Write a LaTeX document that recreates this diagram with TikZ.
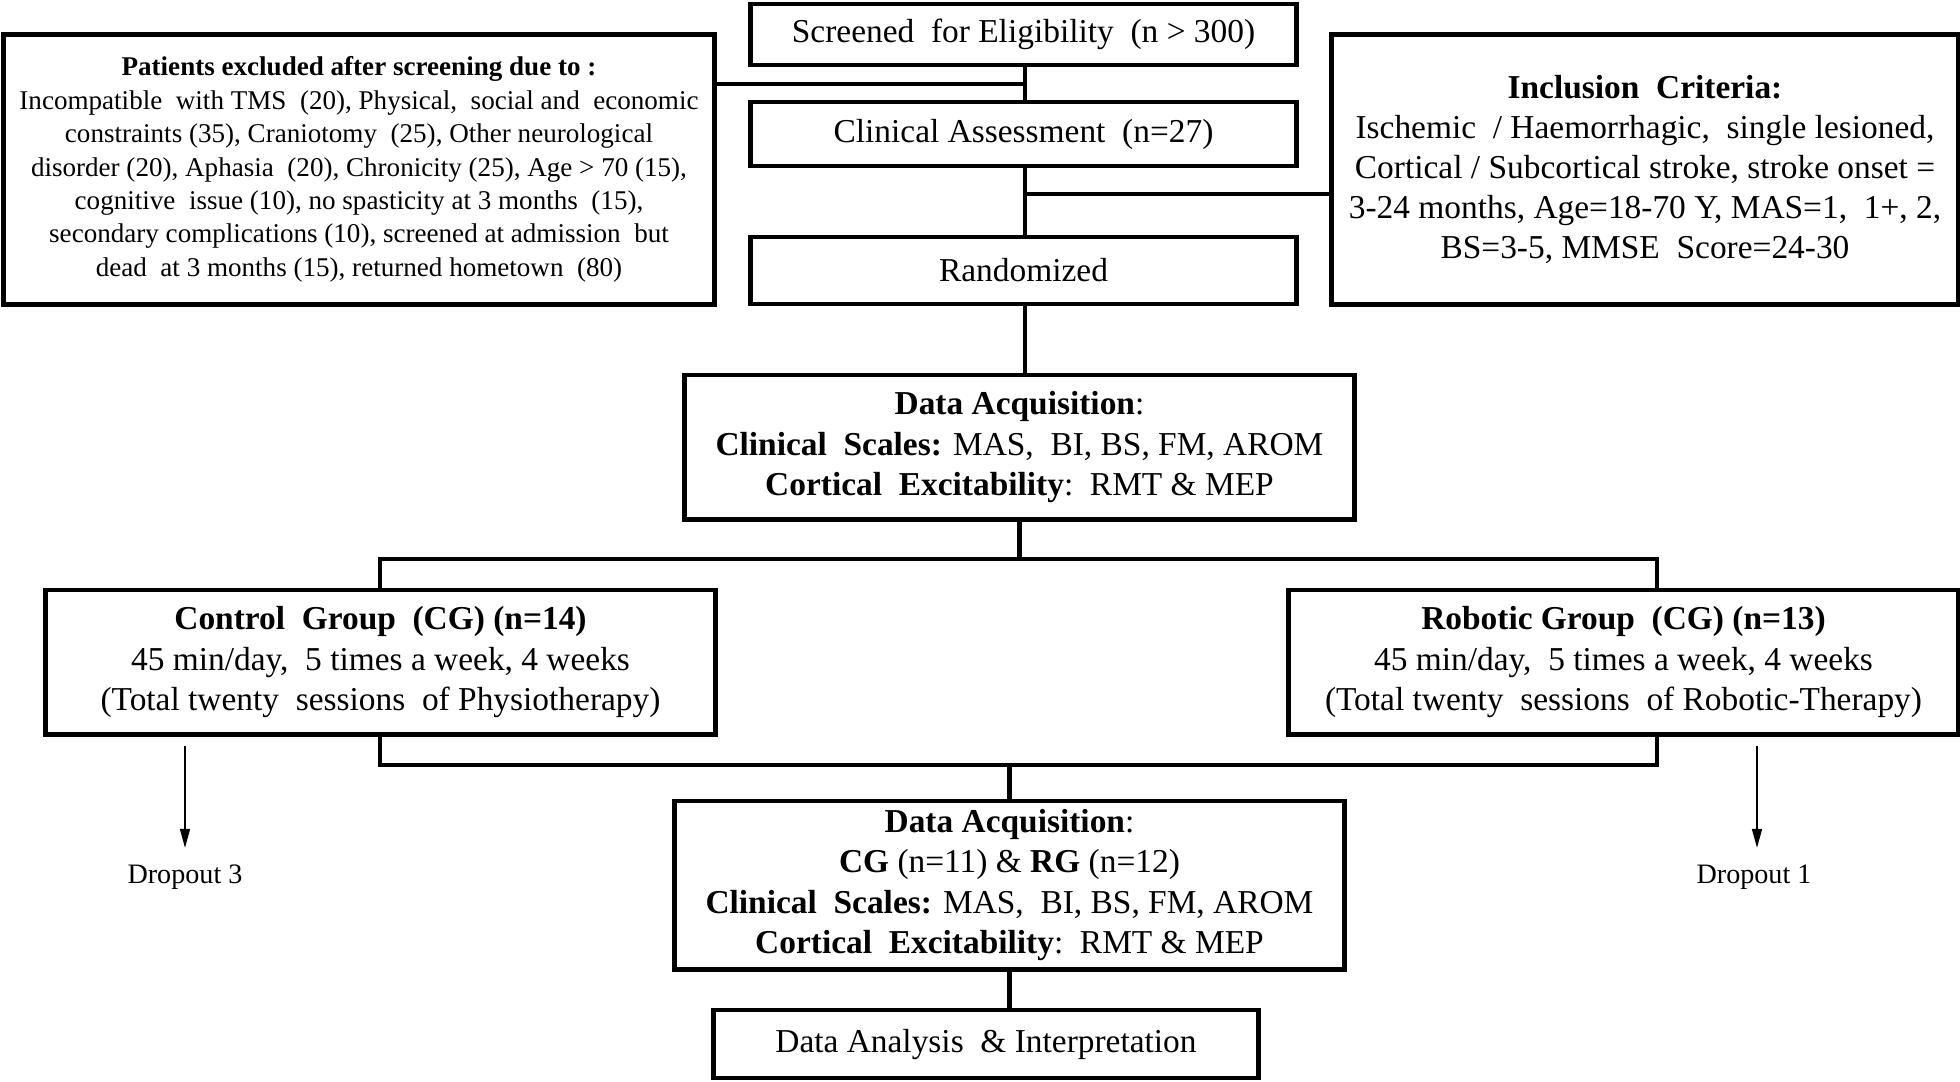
\documentclass[tikz,border=0pt]{standalone}
\usepackage{fontspec}
\setmainfont{Liberation Serif}
\usetikzlibrary{arrows.meta}
\begin{document}
\begin{tikzpicture}[x={(0.01cm,0cm)},y={(0cm,-0.01cm)},line width=1.4pt,
  box/.style={draw, line width=1.4pt, outer sep=0pt, inner sep=0pt, align=center, font=\fontsize{9.5}{11.4}\selectfont},
  smallbox/.style={box, font=\fontsize{7.7}{9.5}\selectfont},
  droplabel/.style={anchor=north, inner sep=0pt, font=\fontsize{8}{9.6}\selectfont},
  droparrow/.style={line width=0.55pt, -{Triangle[length=5.4pt,width=2.8pt]}}]
\useasboundingbox (0,0) rectangle (1960,1081);
\node[box, minimum width=5.45cm, minimum height=0.61cm] (scr) at (1023.5,34.5) {Screened\ \ for Eligibility\ \ (n > 300)};
\node[box, minimum width=5.45cm, minimum height=0.64cm] (clin) at (1023.5,134) {Clinical Assessment\ \ (n=27)};
\node[box, minimum width=5.45cm, minimum height=0.67cm] (rand) at (1023.5,270.5) {Randomized};
\node[smallbox, minimum width=7.10cm, minimum height=2.69cm] (excl) at (359,169.5) {\textbf{Patients excluded after screening due to :}\\
Incompatible\ \ with TMS\ \ (20), Physical,\ \ social and\ \ economic\\
constraints (35), Craniotomy\ \ (25), Other neurological\\
disorder (20), Aphasia\ \ (20), Chronicity (25), Age > 70 (15),\\
cognitive\ \ issue (10), no spasticity at 3 months\ \ (15),\\
secondary complications (10), screened at admission\ \ but\\
dead\ \ at 3 months (15), returned hometown\ \ (80)};
\node[box, minimum width=6.26cm, minimum height=2.69cm] (incl) at (1645,169.5) {\textbf{Inclusion\ \ Criteria:}\\
Ischemic\ \ / Haemorrhagic,\ \ single lesioned,\\
Cortical / Subcortical stroke, stroke onset =\\
3-24 months, Age=18-70 Y, MAS=1,\ \ 1+, 2,\\
BS=3-5, MMSE\ \ Score=24-30};
\node[box, minimum width=6.69cm, minimum height=1.44cm] (acq1) at (1019.5,447) {\textbf{Data Acquisition}:\\
\textbf{Clinical\ \ Scales:} MAS,\ \ BI, BS, FM, AROM\\
\textbf{Cortical\ \ Excitability}:\ \ RMT \& MEP};
\node[box, minimum width=6.69cm, minimum height=1.44cm] (cg) at (380.5,662) {\textbf{Control\ \ Group\ \ (CG) (n=14)}\\
45 min/day,\ \ 5 times a week, 4 weeks\\
(Total twenty\ \ sessions\ \ of Physiotherapy)};
\node[box, minimum width=6.69cm, minimum height=1.44cm] (rg) at (1623.5,662) {\textbf{Robotic Group\ \ (CG) (n=13)}\\
45 min/day,\ \ 5 times a week, 4 weeks\\
(Total twenty\ \ sessions\ \ of Robotic-Therapy)};
\node[box, minimum width=6.69cm, minimum height=1.68cm] (acq2) at (1009.5,885) {\textbf{Data Acquisition}:\\
\textbf{CG} (n=11) \& \textbf{RG} (n=12)\\
\textbf{Clinical\ \ Scales:} MAS,\ \ BI, BS, FM, AROM\\
\textbf{Cortical\ \ Excitability}:\ \ RMT \& MEP};
\node[box, minimum width=5.44cm, minimum height=0.68cm] (ana) at (986,1044) {Data Analysis\ \ \& Interpretation};
\node[droplabel] (drop3) at (185,862) {Dropout 3};
\node[droplabel] (drop1) at (1754,862) {Dropout 1};
\coordinate (exj) at (1025,84);
\coordinate (inj) at (1025,194);
\coordinate (topL) at (380,559);
\coordinate (topR) at (1657,559);
\coordinate (botL) at (380,765);
\coordinate (botR) at (1657,765);
\coordinate (d3) at (185,746);
\coordinate (d1) at (1757,746);
\draw (scr.south -| exj) -- (clin.north -| exj);
\draw (excl.east |- exj) -- (exj);
\draw (clin.south -| inj) -- (rand.north -| inj);
\draw (incl.west |- inj) -- (inj);
\draw (rand.south -| inj) -- (acq1.north -| inj);
\draw (acq1.south) -- (acq1.south |- topL);
\draw (cg.north -| topL) -- (topL) -- (topR) -- (rg.north -| topR);
\draw (cg.south -| botL) -- (botL) -- (botR) -- (rg.south -| botR);
\draw (acq2.north |- botL) -- (acq2.north);
\draw (acq2.south) -- (acq2.south |- ana.north);
\draw[droparrow] (d3) -- ([yshift=4pt]drop3.north);
\draw[droparrow] (d1) -- ([yshift=4pt]drop1.north -| d1);
\end{tikzpicture}
\end{document}
